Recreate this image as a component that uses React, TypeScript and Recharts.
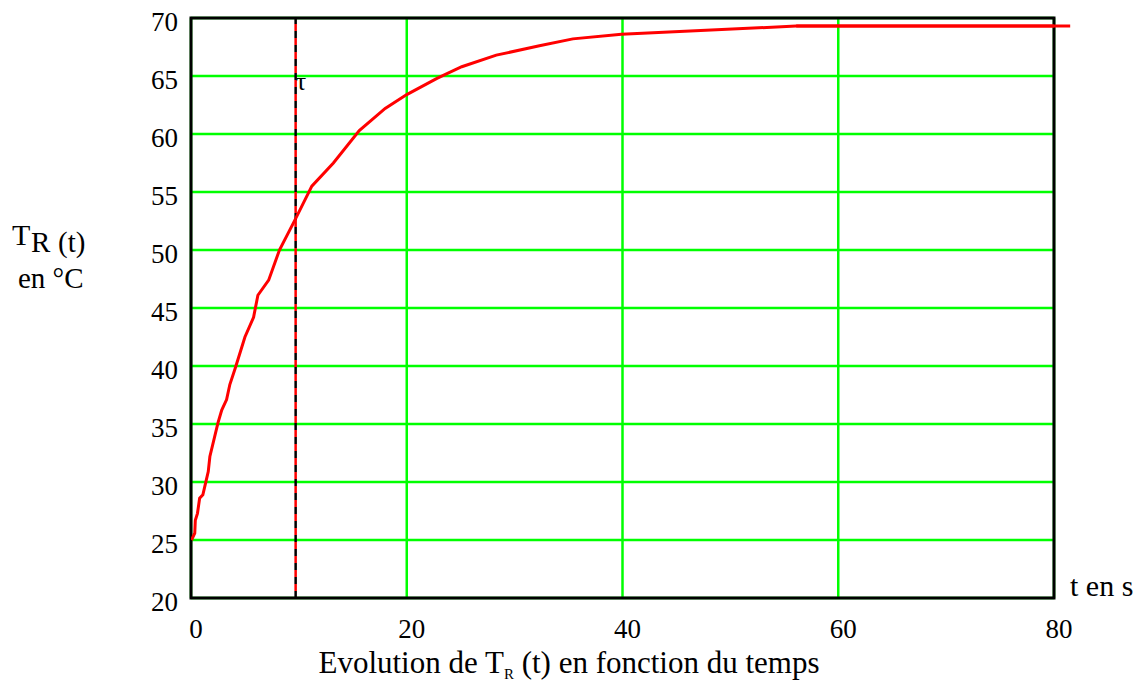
import {
  LineChart,
  Line,
  XAxis,
  YAxis,
  CartesianGrid,
  ReferenceLine,
  ReferenceArea,
  ReferenceDot,
} from "recharts";

// temps (s) et température du récepteur (°C)
const TIME = [0.05, 0.35, 0.4, 0.6, 0.8, 1.1, 1.35, 1.6, 1.75, 2.5, 2.85, 3.3, 3.6, 4.1, 5.0, 5.8, 6.2, 7.2, 8.2, 9.7, 11.2, 13.2, 15.6, 18.0, 20.0, 22.8, 25.1, 28.3, 32.3, 35.4, 39.9, 56.1, 81.5];
const TEMP = [25.0, 25.6, 26.7, 27.3, 28.6, 28.9, 29.9, 30.9, 32.2, 35.1, 36.2, 37.1, 38.4, 39.8, 42.5, 44.2, 46.1, 47.4, 50.0, 52.7, 55.5, 57.5, 60.3, 62.2, 63.4, 64.8, 65.8, 66.8, 67.6, 68.2, 68.6, 69.3, 69.3];

const X_TICKS = [0, 20, 40, 60, 80];
const Y_TICKS = [20, 25, 30, 35, 40, 45, 50, 55, 60, 65, 70];
const TAU = 9.7;
const TAU_LABEL_T = 65;

const data = TIME.map((t, i) => ({ t, temp: TEMP[i] }));
const last = data[data.length - 1];
const prev = data[data.length - 2];

const FONT = '"Liberation Serif", "Times New Roman", serif';
const GREEN = "#00ff00";
const RED = "#ff0000";

function XTick({ x, y, payload }: any) {
  return (
    <text x={x + 5} y={y + 40} textAnchor="middle" fontFamily={FONT} fontSize={27} fill="#000">
      {payload.value}
    </text>
  );
}

function YTick({ x, y, payload }: any) {
  return (
    <text x={x - 13} y={y + 13} textAnchor="end" fontFamily={FONT} fontSize={27} fill="#000">
      {payload.value}
    </text>
  );
}

// τ juste sous la ligne 65, à droite du trait pointillé
function TauLabel({ viewBox }: any) {
  if (!viewBox) return null;
  return (
    <text x={viewBox.x} y={viewBox.y + 14} fontFamily={FONT} fontSize={26} fill="#000">
      τ
    </text>
  );
}

export default function App() {
  return (
    <div style={{ position: "absolute", left: 0, top: 0, width: 1146, height: 684, background: "#fff" }}>
      <LineChart
        width={1146}
        height={684}
        data={data}
        margin={{ top: 18, right: 92, left: 0, bottom: 0 }}
      >
        <CartesianGrid stroke={GREEN} strokeWidth={2.5} />
        <XAxis
          dataKey="t"
          type="number"
          domain={[0, 80]}
          ticks={X_TICKS}
          allowDataOverflow
          axisLine={false}
          tickLine={false}
          tickSize={0}
          tickMargin={0}
          height={86}
          tick={<XTick />}
        />
        <YAxis
          type="number"
          domain={[20, 70]}
          ticks={Y_TICKS}
          allowDataOverflow
          axisLine={false}
          tickLine={false}
          tickSize={0}
          tickMargin={0}
          width={191}
          tick={<YTick />}
        />
        <ReferenceArea x1={0} x2={80} y1={20} y2={70} fill="none" stroke="#000" strokeWidth={3} />
        <ReferenceLine x={TAU} stroke="#000" strokeWidth={2.5} strokeDasharray="7 7" />
        <ReferenceLine x={TAU} stroke={RED} strokeWidth={2.5} strokeDasharray="7 7" strokeDashoffset={7} />
        <ReferenceDot
          x={TAU}
          y={TAU_LABEL_T}
          r={0}
          fill="none"
          stroke="none"
          label={{ content: <TauLabel /> }}
        />
        <Line
          type="linear"
          dataKey="temp"
          stroke={RED}
          strokeWidth={3}
          dot={false}
          isAnimationActive={false}
        />
        <ReferenceLine
          segment={[{ x: prev.t, y: prev.temp }, { x: last.t, y: last.temp }]}
          stroke={RED}
          strokeWidth={3}
          ifOverflow="visible"
        />
      </LineChart>
      <svg
        width={1146}
        height={684}
        style={{ position: "absolute", left: 0, top: 0, pointerEvents: "none" }}
        fontFamily={FONT}
        fill="#000"
      >
        <text x={12} y={245} fontSize={30}>T</text>
        <text x={31} y={252} fontSize={29}>R</text>
        <text x={58} y={252} fontSize={29}>(t)</text>
        <text x={18} y={288} fontSize={29}>en °C</text>
        <text x={1070} y={596} fontSize={30}>t en s</text>
        <text x={569} y={673} fontSize={31} textAnchor="middle">
          Evolution de T<tspan fontSize={15} dy={6}>R</tspan>
          <tspan dy={-6}> (t) en fonction du temps</tspan>
        </text>
      </svg>
    </div>
  );
}
